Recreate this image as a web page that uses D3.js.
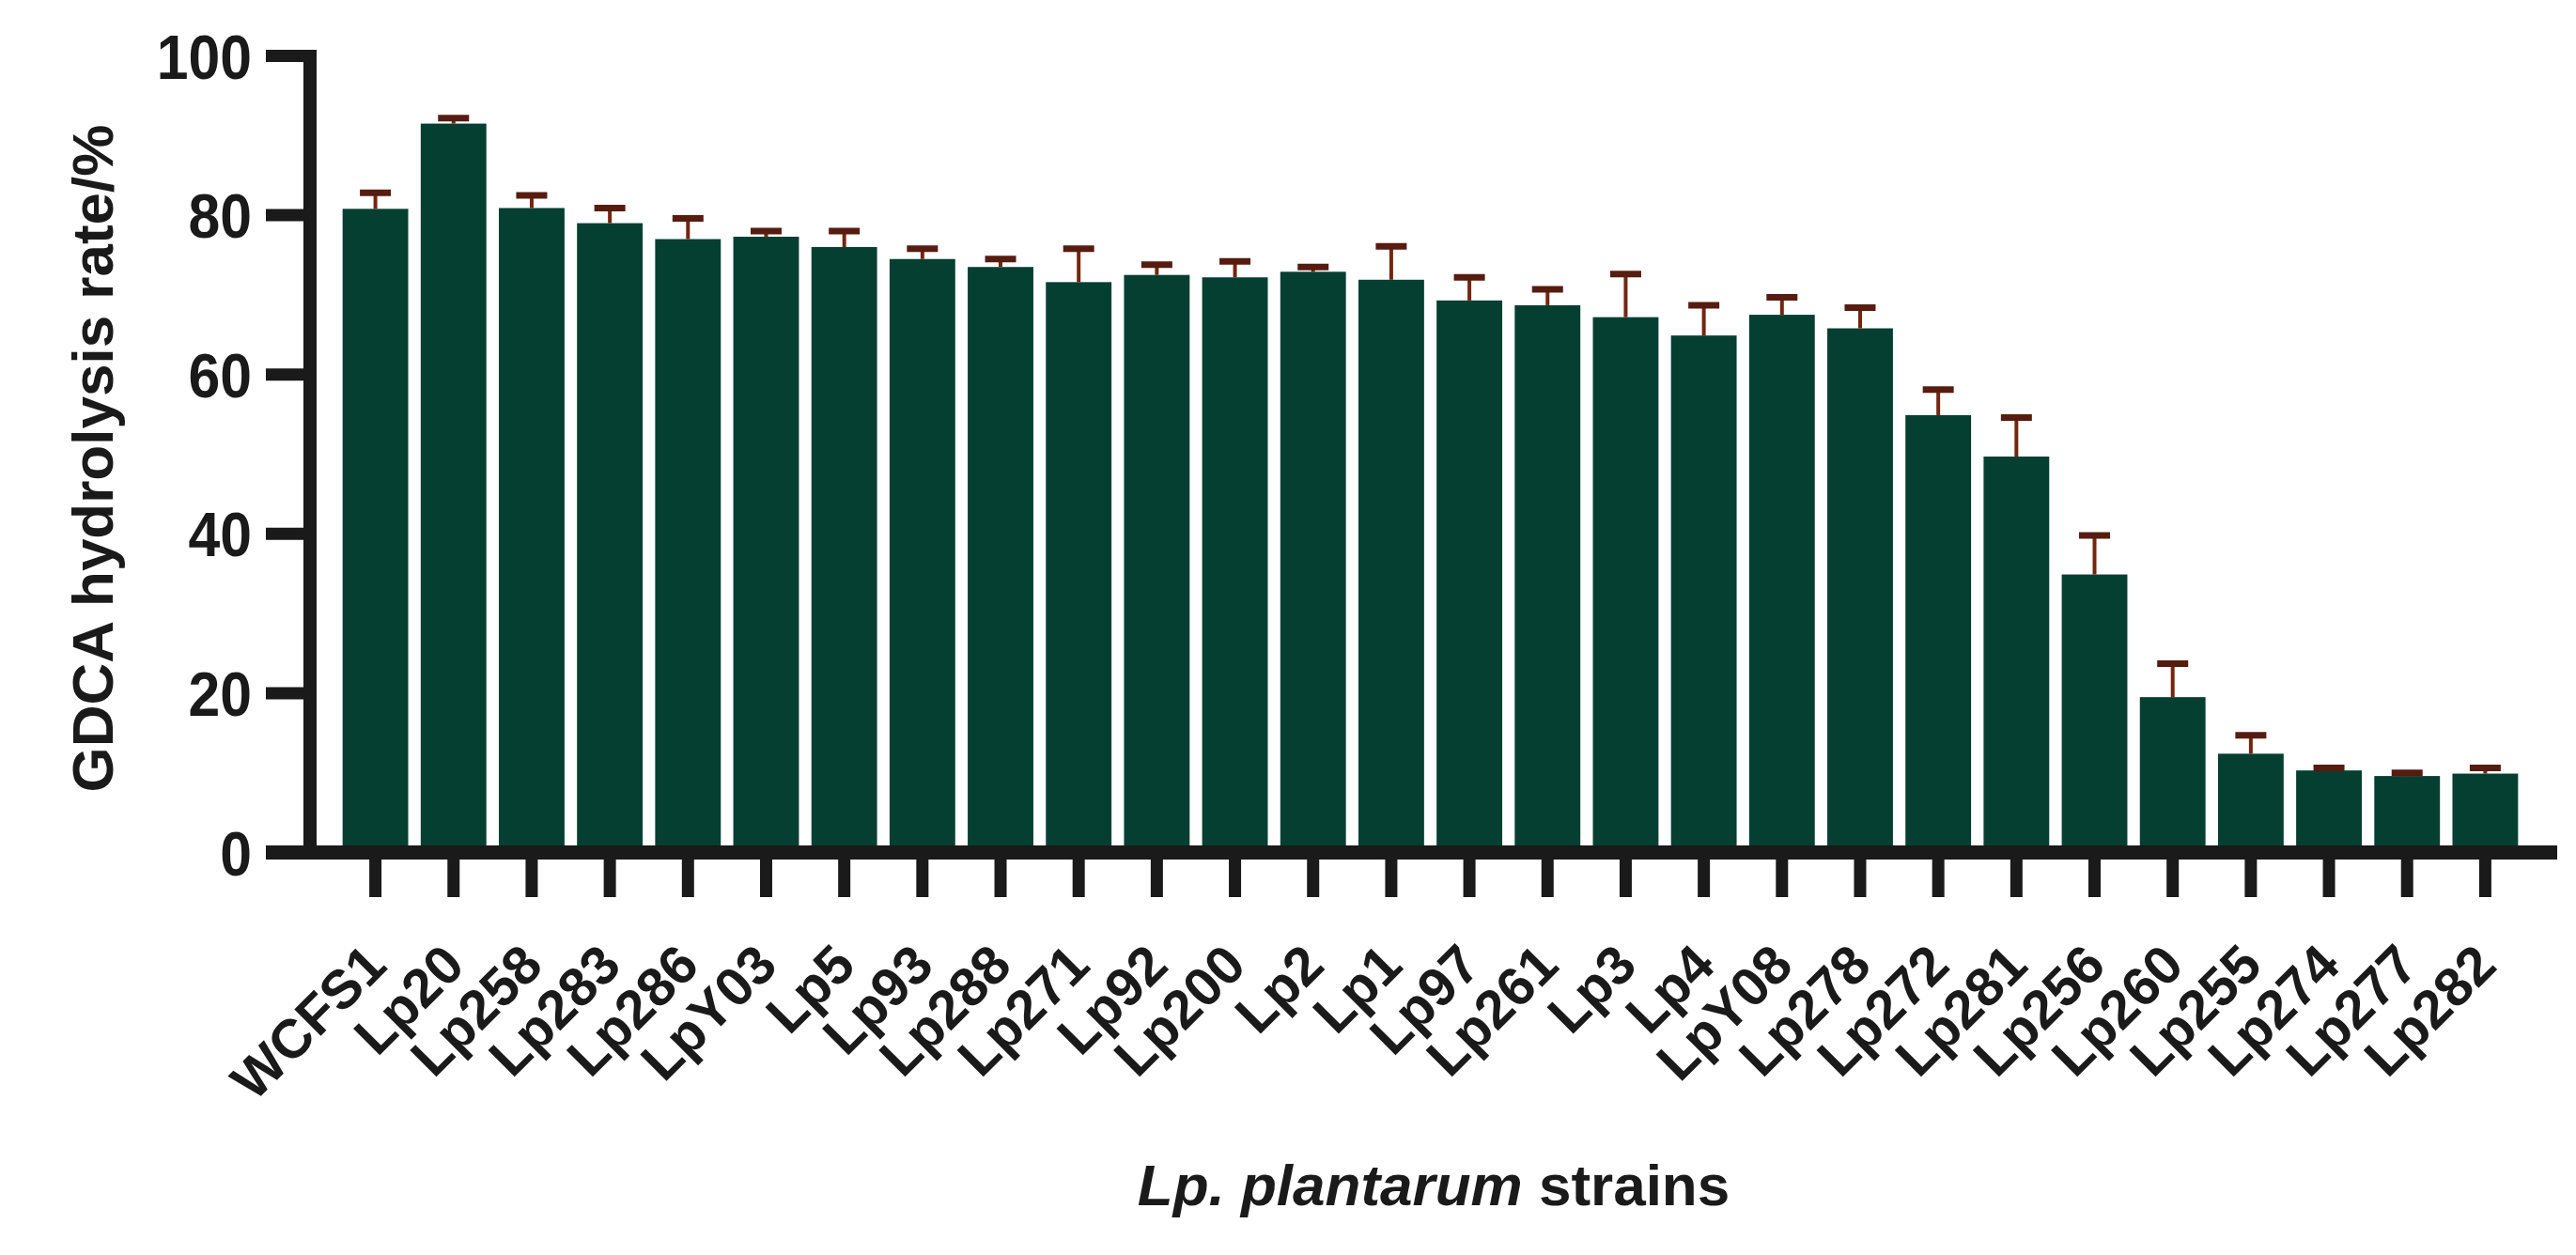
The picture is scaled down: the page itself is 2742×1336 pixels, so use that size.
<!DOCTYPE html>
<html>
<head>
<meta charset="utf-8">
<script src="https://cdn.jsdelivr.net/npm/d3@7/dist/d3.min.js"></script>
<style>
  html, body { margin: 0; padding: 0; background: #ffffff; }
  svg { display: block; }
  text { font-family: "Liberation Sans", Arial, Helvetica, sans-serif; font-weight: bold; fill: #1a1a1a; }
</style>
</head>
<body>
<script>
// ---- data ----
const strains = ["WCFS1","Lp20","Lp258","Lp283","Lp286","LpY03","Lp5","Lp93","Lp288","Lp271",
                 "Lp92","Lp200","Lp2","Lp1","Lp97","Lp261","Lp3","Lp4","LpY08","Lp278",
                 "Lp272","Lp281","Lp256","Lp260","Lp255","Lp274","Lp277","Lp282"];
const hydrolysisMean = [80.8, 91.5, 80.9, 79.0, 77.0, 77.3, 76.0, 74.5, 73.5, 71.6,
                        72.5, 72.2, 72.9, 71.9, 69.3, 68.7, 67.2, 64.9, 67.5, 65.8,
                        54.9, 49.7, 34.9, 19.5, 12.4, 10.3, 9.6, 9.9];
const hydrolysisSD   = [2.0, 0.7, 1.6, 1.9, 2.6, 0.7, 2.0, 1.3, 1.0, 4.2,
                        1.3, 2.0, 0.6, 4.2, 2.9, 2.0, 5.4, 3.8, 2.2, 2.6,
                        3.2, 4.9, 4.9, 4.2, 2.3, 0.3, 0.4, 0.7];
const yTicks = [0, 20, 40, 60, 80, 100];
const yTitle = "GDCA hydrolysis rate/%";

// ---- layout ----
const W = 2742, H = 1336;
const svg = d3.select("body").append("svg").attr("width", W).attr("height", H);

const x = d3.scaleBand().domain(strains).range([358, 2687]).paddingInner(0.16).paddingOuter(0.08);
const y = d3.scaleLinear().domain([0, 100]).range([907.5, 59.5]);

const barColor = "#053f32";
const axisColor = "#1a1a1a";
const stemColor = "#73260f";
const capColor = "#561c10";

const data = strains.map((s, i) => ({ s, m: hydrolysisMean[i], sd: hydrolysisSD[i] }));

// bars
svg.append("g").selectAll("rect").data(data).join("rect")
  .attr("x", d => x(d.s))
  .attr("width", x.bandwidth())
  .attr("y", d => y(d.m))
  .attr("height", d => y(0) - y(d.m))
  .attr("fill", barColor);

// error bars (upper only)
const eb = svg.append("g");
eb.selectAll("line.stem").data(data).join("line").attr("class", "stem")
  .attr("x1", d => x(d.s) + x.bandwidth() / 2)
  .attr("x2", d => x(d.s) + x.bandwidth() / 2)
  .attr("y1", d => y(d.m))
  .attr("y2", d => y(d.m + d.sd))
  .attr("stroke", stemColor).attr("stroke-width", 4);
eb.selectAll("line.cap").data(data).join("line").attr("class", "cap")
  .attr("x1", d => x(d.s) + x.bandwidth() / 2 - 16.5)
  .attr("x2", d => x(d.s) + x.bandwidth() / 2 + 16.5)
  .attr("y1", d => y(d.m + d.sd))
  .attr("y2", d => y(d.m + d.sd))
  .attr("stroke", capColor).attr("stroke-width", 7);

// y axis
const yAxisX = 330;
svg.append("line")
  .attr("x1", yAxisX).attr("x2", yAxisX)
  .attr("y1", y(100) - 6.5).attr("y2", y(0) + 7.5)
  .attr("stroke", axisColor).attr("stroke-width", 14);
svg.append("g").selectAll("line").data(yTicks).join("line")
  .attr("x1", 283).attr("x2", yAxisX)
  .attr("y1", d => y(d)).attr("y2", d => y(d))
  .attr("stroke", axisColor).attr("stroke-width", 13);
svg.append("g").selectAll("text").data(yTicks).join("text")
  .attr("transform", d => `translate(268, ${y(d) + 24}) scale(0.92, 1)`)
  .attr("text-anchor", "end")
  .attr("font-size", 66)
  .text(d => d);

// x axis
svg.append("line")
  .attr("x1", 283).attr("x2", 2722)
  .attr("y1", y(0)).attr("y2", y(0))
  .attr("stroke", axisColor).attr("stroke-width", 15);
svg.append("g").selectAll("line").data(strains).join("line")
  .attr("x1", d => x(d) + x.bandwidth() / 2)
  .attr("x2", d => x(d) + x.bandwidth() / 2)
  .attr("y1", y(0)).attr("y2", 955)
  .attr("stroke", axisColor).attr("stroke-width", 13);
svg.append("g").selectAll("text").data(strains).join("text")
  .attr("transform", d => `translate(${x(d) + x.bandwidth() / 2}, 1016) rotate(-45)`)
  .attr("text-anchor", "end")
  .attr("dy", "0.35em")
  .attr("font-size", 58)
  .text(d => d);

// axis titles
svg.append("text")
  .attr("transform", "translate(120, 488) rotate(-90)")
  .attr("text-anchor", "middle")
  .attr("font-size", 62)
  .text(yTitle);

const xt = svg.append("text")
  .attr("x", 1526).attr("y", 1283)
  .attr("text-anchor", "middle")
  .attr("font-size", 62);
xt.append("tspan").attr("font-style", "italic").text("Lp. plantarum");
xt.append("tspan").text(" strains");
</script>
</body>
</html>
